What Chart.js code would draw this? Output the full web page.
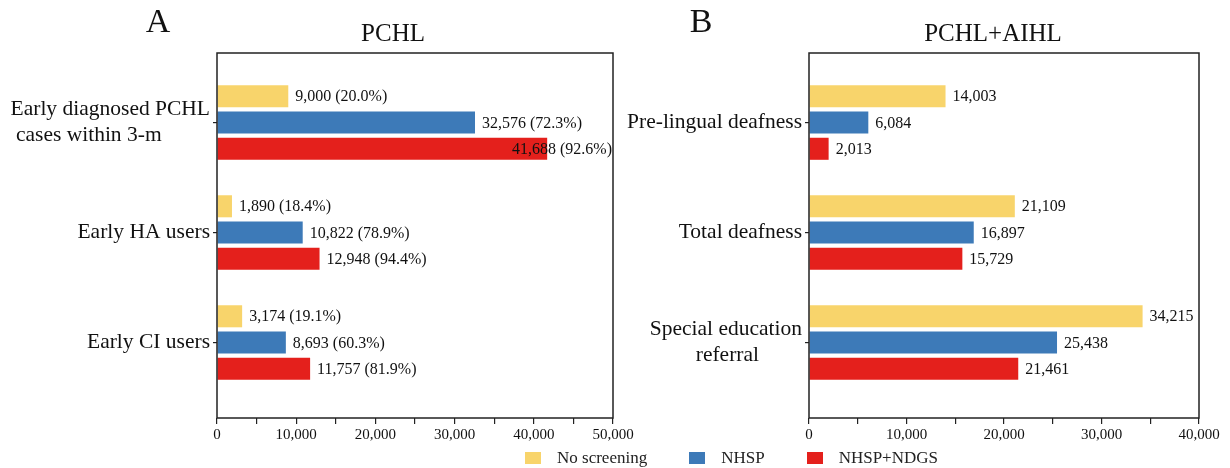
<!DOCTYPE html>
<html>
<head>
<meta charset="utf-8">
<script src="https://cdn.jsdelivr.net/npm/chart.js@4.4.0/dist/chart.umd.min.js"></script>
<style>
  html, body { margin: 0; padding: 0; background: #fff; }
  #wrap { position: relative; width: 1230px; height: 468px; overflow: hidden; font-family: "Liberation Serif", "Times New Roman", serif; }
  #chartA { position: absolute; left: 0; top: 0; }
  #chartB { position: absolute; left: 600px; top: 0; }
  #legend { position: absolute; left: 525px; top: 448px; display: flex; align-items: center; height: 20px; font-size: 17px; color: #222; }
  .item { display: flex; align-items: center; margin-right: 42px; }
  .swatch { width: 16px; height: 12px; margin-right: 16px; }
</style>
</head>
<body>
<div id="wrap">
  <canvas id="chartA" width="660" height="468"></canvas>
  <canvas id="chartB" width="630" height="468"></canvas>
  <div id="legend"></div>
</div>
<script>
const SERIES = ['No screening', 'NHSP', 'NHSP+NDGS'];
const COLORS = ['#f8d46b', '#3d7ab8', '#e4201c'];

// panel A - PCHL
const catsA = [['Early diagnosed PCHL', 'cases within 3-m'], 'Early HA users', 'Early CI users'];
const noScreenA = [9000, 1890, 3174];
const nhspA = [32576, 10822, 8693];
const ndgsA = [41688, 12948, 11757];
const noScreenPctA = ['20.0', '18.4', '19.1'];
const nhspPctA = ['72.3', '78.9', '60.3'];
const ndgsPctA = ['92.6', '94.4', '81.9'];
const ticksA = [0, 10000, 20000, 30000, 40000, 50000];

// panel B - PCHL+AIHL
const catsB = ['Pre-lingual deafness', 'Total deafness', ['Special education', 'referral']];
const noScreenB = [14003, 21109, 34215];
const nhspB = [6084, 16897, 25438];
const ndgsB = [2013, 15729, 21461];
const ticksB = [0, 10000, 20000, 30000, 40000];

const FONT = '"Liberation Serif", "Times New Roman", serif';
const measureCtx = document.createElement('canvas').getContext('2d');

// pad the 2nd line of a wrapped label so it sits under the first one
function padLabel(label, size, shift) {
    if (!Array.isArray(label)) return label;
    measureCtx.font = size + 'px ' + FONT;
    const w0 = measureCtx.measureText(label[0]).width;
    const sp = measureCtx.measureText(' ').width;
    return label.map((line, i) => {
        if (i === 0) return line;
        const n = Math.max(0, Math.round(shift * (w0 - measureCtx.measureText(line).width) / sp));
        return line + ' '.repeat(n);
    });
}

const boxPlugin = {
    id: 'box',
    afterDraw(chart) {
        const a = chart.chartArea, ctx = chart.ctx;
        ctx.save();
        ctx.strokeStyle = '#222';
        ctx.lineWidth = 1.5;
        ctx.strokeRect(a.left, a.top, a.right - a.left, a.bottom - a.top);
        ctx.restore();
    }
};

const valueLabels = {
    id: 'valueLabels',
    afterDatasetsDraw(chart) {
        const ctx = chart.ctx, area = chart.chartArea;
        ctx.save();
        ctx.font = '16px ' + FONT;
        ctx.fillStyle = '#111';
        ctx.textAlign = 'left';
        ctx.textBaseline = 'middle';
        chart.data.datasets.forEach((ds, k) => {
            chart.getDatasetMeta(k).data.forEach((bar, i) => {
                let txt = ds.data[i].x.toLocaleString('en-US');
                if (ds.pct) txt += ' (' + ds.pct[i] + '%)';
                const w = ctx.measureText(txt).width;
                let x = bar.x + 7;
                if (x + w > area.right - 1) x = area.right - 1 - w;
                ctx.fillText(txt, x, bar.y + 1);
            });
        });
        ctx.restore();
    }
};

const panelPlugin = {
    id: 'panel',
    afterDraw(chart, args, opts) {
        const ctx = chart.ctx;
        ctx.save();
        ctx.fillStyle = '#111';
        ctx.textAlign = 'center';
        ctx.textBaseline = 'middle';
        ctx.font = '34px ' + FONT;
        ctx.fillText(opts.letter, opts.letterX, 23);
        ctx.font = '25px ' + FONT;
        ctx.fillText(opts.title, opts.titleX, 34);
        ctx.restore();
    }
};

function buildChart(id, o) {
    const sets = o.series.map((vals, k) => ({
        label: SERIES[k],
        data: vals.map((v, i) => ({ x: v, y: i })),
        backgroundColor: COLORS[k],
        pct: o.pcts ? o.pcts[k] : null,
        categoryPercentage: 0.716,
        barPercentage: 0.84
    }));
    const majors = o.ticks;
    return new Chart(document.getElementById(id), {
        type: 'bar',
        data: { datasets: sets },
        options: {
            indexAxis: 'y',
            responsive: false,
            animation: false,
            layout: { padding: { top: 53, right: o.padRight, bottom: 20, left: 0 } },
            plugins: {
                legend: { display: false },
                tooltip: { enabled: false },
                panel: { letter: o.letter, letterX: o.letterX, title: o.title, titleX: o.titleX }
            },
            scales: {
                x: {
                    type: 'linear',
                    min: 0,
                    max: majors[majors.length - 1],
                    afterFit: s => { s.height = 30; },
                    border: { display: false },
                    grid: { drawOnChartArea: false, drawTicks: true, tickLength: 6, color: '#222', lineWidth: 1.2 },
                    ticks: {
                        stepSize: (majors[1] - majors[0]) / 2,
                        autoSkip: false,
                        maxRotation: 0,
                        padding: 2,
                        color: '#111',
                        font: { family: FONT, size: 15 },
                        callback: v => majors.includes(v) ? v.toLocaleString('en-US') : ''
                    }
                },
                y: {
                    type: 'linear',
                    reverse: true,
                    offset: false,
                    min: -0.632,
                    max: 2.686,
                    afterFit: s => { s.width = o.axisWidth; },
                    afterBuildTicks: s => { s.ticks = o.cats.map((c, i) => ({ value: i })); },
                    border: { display: false },
                    grid: { offset: false, drawOnChartArea: false, drawTicks: true, tickLength: 4, color: '#222', lineWidth: 1.2 },
                    ticks: {
                        padding: 3,
                        color: '#111',
                        font: { family: FONT, size: 21.5, lineHeight: 1.2 },
                        callback: v => padLabel(o.cats[v], 21.5, o.shift)
                    }
                }
            }
        },
        plugins: [boxPlugin, valueLabels, panelPlugin]
    });
}

buildChart('chartA', {
    cats: catsA,
    series: [noScreenA, nhspA, ndgsA],
    pcts: [noScreenPctA, nhspPctA, ndgsPctA],
    ticks: ticksA,
    axisWidth: 217,
    padRight: 47,
    shift: 0.88,
    letter: 'A', letterX: 158,
    title: 'PCHL', titleX: 393
});

buildChart('chartB', {
    cats: catsB,
    series: [noScreenB, nhspB, ndgsB],
    pcts: null,
    ticks: ticksB,
    axisWidth: 209,
    padRight: 31,
    shift: 0.5,
    letter: 'B', letterX: 101,
    title: 'PCHL+AIHL', titleX: 393
});

// shared legend under both panels
const legend = document.getElementById('legend');
SERIES.forEach((name, k) => {
    const item = document.createElement('div');
    item.className = 'item';
    item.innerHTML = `<span class="swatch" style="background:${COLORS[k]}"></span><span>${name}</span>`;
    legend.appendChild(item);
});
</script>
</body>
</html>
